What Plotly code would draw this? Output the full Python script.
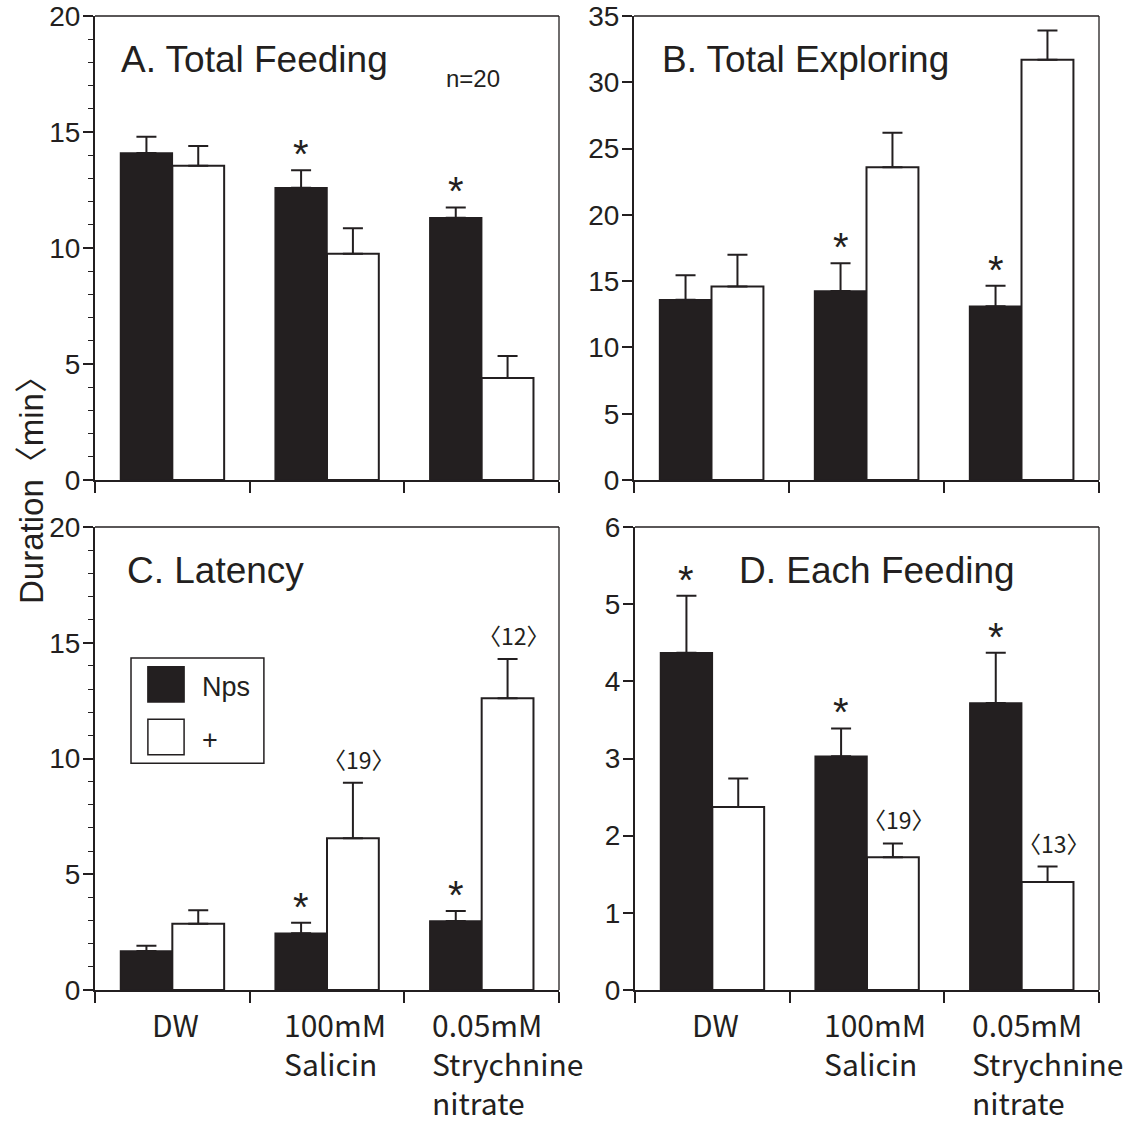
import plotly.graph_objects as go

W, H = 1132, 1122
INK = "#231f20"
SANS = "Liberation Sans, Arial, sans-serif"
GOTHIC = "Noto Sans CJK JP, sans-serif"

# ---- data -----------------------------------------------------------------
categories = ["DW", "100mM Salicin", "0.05mM Strychnine nitrate"]
category_lines = [["DW"], ["100mM", "Salicin"], ["0.05mM", "Strychnine", "nitrate"]]
series_names = ["Nps", "+"]

feeding_nps = [14.1, 12.6, 11.3]
feeding_nps_se = [0.7, 0.75, 0.45]
feeding_plus = [13.55, 9.75, 4.4]
feeding_plus_se = [0.85, 1.1, 0.95]

exploring_nps = [13.6, 14.25, 13.1]
exploring_nps_se = [1.85, 2.1, 1.55]
exploring_plus = [14.6, 23.6, 31.7]
exploring_plus_se = [2.4, 2.6, 2.2]

latency_nps = [1.68, 2.45, 2.98]
latency_nps_se = [0.23, 0.45, 0.43]
latency_plus = [2.86, 6.55, 12.6]
latency_plus_se = [0.58, 2.4, 1.7]

each_nps = [4.37, 3.03, 3.72]
each_nps_se = [0.74, 0.36, 0.65]
each_plus = [2.37, 1.72, 1.40]
each_plus_se = [0.37, 0.18, 0.20]

# significance marks on the Nps bars, and sample sizes on the "+" bars
feeding_sig = [False, True, True]
exploring_sig = [False, True, True]
latency_sig = [False, True, True]
each_sig = [True, True, True]
latency_n = ["", "〈19〉", "〈12〉"]
each_n = ["", "〈19〉", "〈13〉"]

panels = [
    dict(title="A. Total Feeding", nps=feeding_nps, nps_se=feeding_nps_se,
         plus=feeding_plus, plus_se=feeding_plus_se, sig=feeding_sig,
         n=["", "", ""], ymax=20, dtick=5, minor=1,
         box=(95, 559, 16, 480), title_dx=27, xlabels=False),
    dict(title="B. Total Exploring", nps=exploring_nps, nps_se=exploring_nps_se,
         plus=exploring_plus, plus_se=exploring_plus_se, sig=exploring_sig,
         n=["", "", ""], ymax=35, dtick=5, minor=None,
         box=(634, 1099, 16, 480), title_dx=29, xlabels=False),
    dict(title="C. Latency", nps=latency_nps, nps_se=latency_nps_se,
         plus=latency_plus, plus_se=latency_plus_se, sig=latency_sig,
         n=latency_n, ymax=20, dtick=5, minor=1,
         box=(95, 559, 527, 990), title_dx=33, xlabels=True),
    dict(title="D. Each Feeding", nps=each_nps, nps_se=each_nps_se,
         plus=each_plus, plus_se=each_plus_se, sig=each_sig,
         n=each_n, ymax=6, dtick=1, minor=None,
         box=(635, 1099, 527, 990), title_dx=105, xlabels=True),
]

# ---- layout helpers -------------------------------------------------------
def px_x(x):
    return x / W


def px_y(y):
    return 1 - y / H


BAR_HALF_SHIFT = 26          # pixel offset from category centre to each bar centre
LABEL_XSHIFT = [-22, -45, -52]

fig = go.Figure()
annotations = []
shapes = []
layout = {}

for k, p in enumerate(panels):
    sfx = "" if k == 0 else str(k + 1)
    xa, ya = "x" + sfx, "y" + sfx
    x0, x1, y0, y1 = p["box"]
    xs = list(range(len(categories)))

    fig.add_trace(go.Bar(
        x=xs, y=p["nps"], name=series_names[0], xaxis=xa, yaxis=ya,
        offsetgroup="nps", showlegend=False,
        marker=dict(color=INK, line=dict(color=INK, width=1.5)),
        error_y=dict(type="data", array=p["nps_se"], arrayminus=[0] * 3,
                     symmetric=False, width=10, thickness=2, color=INK),
    ))
    fig.add_trace(go.Bar(
        x=xs, y=p["plus"], name=series_names[1], xaxis=xa, yaxis=ya,
        offsetgroup="plus", showlegend=False,
        marker=dict(color="white", line=dict(color=INK, width=2)),
        error_y=dict(type="data", array=p["plus_se"], arrayminus=[0] * 3,
                     symmetric=False, width=10, thickness=2, color=INK),
    ))

    layout["xaxis" + sfx] = dict(
        domain=[px_x(x0), px_x(x1)], anchor=ya, range=[-0.5, 2.5],
        tickmode="array", tickvals=[-0.5, 0.5, 1.5, 2.5], showticklabels=False,
        ticks="outside", ticklen=11, tickwidth=1.5, tickcolor=INK,
        showline=True, linewidth=2, linecolor=INK, showgrid=False,
        zeroline=False, fixedrange=True,
    )
    yax = dict(
        domain=[px_y(y1), px_y(y0)], anchor=xa, range=[0, p["ymax"]],
        tickmode="linear", tick0=0, dtick=p["dtick"],
        ticks="outside", ticklen=10, tickwidth=1.5, tickcolor=INK,
        tickfont=dict(family=SANS, size=28, color=INK), ticklabelstandoff=-3,
        showline=True, linewidth=2, linecolor=INK, showgrid=False,
        zeroline=False, fixedrange=True, automargin=False,
    )
    if p["minor"]:
        yax["minor"] = dict(dtick=p["minor"], ticks="outside", ticklen=5,
                            tickwidth=1.2, tickcolor=INK, showgrid=False)
    layout["yaxis" + sfx] = yax

    # top and right frame lines
    shapes.append(dict(type="line", xref=xa + " domain", yref=ya + " domain",
                       x0=0, x1=1, y0=1, y1=1, line=dict(color=INK, width=1.3)))
    shapes.append(dict(type="line", xref=xa + " domain", yref=ya + " domain",
                       x0=1, x1=1, y0=0, y1=1, line=dict(color=INK, width=1.3)))

    # panel title
    annotations.append(dict(
        text=p["title"], xref=xa + " domain", yref=ya + " domain",
        x=0, y=1, xanchor="left", yanchor="top", xshift=p["title_dx"] - 3,
        yshift=-21, showarrow=False,
        font=dict(family=SANS, size=37, color=INK),
    ))

    for i in xs:
        if p["sig"][i]:
            annotations.append(dict(
                text="*", xref=xa, yref=ya, x=i, y=p["nps"][i] + p["nps_se"][i],
                xshift=-BAR_HALF_SHIFT, yshift=-8, yanchor="bottom",
                showarrow=False, font=dict(family=SANS, size=40, color=INK),
            ))
        if p["n"][i]:
            annotations.append(dict(
                text=p["n"][i], xref=xa, yref=ya, x=i,
                y=p["plus"][i] + p["plus_se"][i],
                xshift=BAR_HALF_SHIFT + 6, yshift=5, yanchor="bottom",
                showarrow=False, font=dict(family=GOTHIC, size=23, color=INK),
            ))
        if p["xlabels"]:
            annotations.append(dict(
                text="<br>".join(category_lines[i]), xref=xa, yref="paper",
                x=i, y=px_y(y1), xanchor="left", yanchor="top", align="left",
                xshift=LABEL_XSHIFT[i], yshift=-10, showarrow=False,
                font=dict(family=GOTHIC, size=30, color=INK),
            ))

# sample size note in panel A
annotations.append(dict(
    text="n=20", xref="x domain", yref="y domain", x=0, y=1,
    xanchor="left", yanchor="top", xshift=349, yshift=-47, showarrow=False,
    font=dict(family=SANS, size=24, color=INK),
))

# shared y-axis title
annotations.append(dict(
    text="Duration〈min〉", xref="paper", yref="paper", x=px_x(31), y=px_y(482),
    textangle=-90, showarrow=False, xanchor="center", yanchor="middle",
    font=dict(family="Liberation Sans, Noto Sans CJK JP, sans-serif", size=33, color=INK),
))

# legend drawn inside panel C
shapes += [
    dict(type="rect", xref="x3 domain", yref="y3 domain",
         x0=0.0776, x1=0.364, y0=0.490, y1=0.717,
         line=dict(color=INK, width=1.5), fillcolor="white"),
    dict(type="rect", xref="x3 domain", yref="y3 domain",
         x0=0.114, x1=0.192, y0=0.622, y1=0.698,
         line=dict(color=INK, width=1.5), fillcolor=INK),
    dict(type="rect", xref="x3 domain", yref="y3 domain",
         x0=0.114, x1=0.192, y0=0.508, y1=0.585,
         line=dict(color=INK, width=1.5), fillcolor="white"),
]
annotations.append(dict(text=series_names[0], xref="x3 domain", yref="y3 domain",
                        x=0.226, y=0.655, xanchor="left", yanchor="middle",
                        showarrow=False, font=dict(family=SANS, size=27, color=INK)))
annotations.append(dict(text=series_names[1], xref="x3 domain", yref="y3 domain",
                        x=0.226, y=0.540, xanchor="left", yanchor="middle",
                        showarrow=False, font=dict(family=SANS, size=27, color=INK)))

fig.update_layout(
    width=W, height=H, margin=dict(l=0, r=0, t=0, b=0),
    paper_bgcolor="white", plot_bgcolor="white",
    barmode="group", bargap=0.33, bargroupgap=0,
    showlegend=False, annotations=annotations, shapes=shapes,
    **layout,
)

fig.write_html("out.html", config={"displayModeBar": False})
